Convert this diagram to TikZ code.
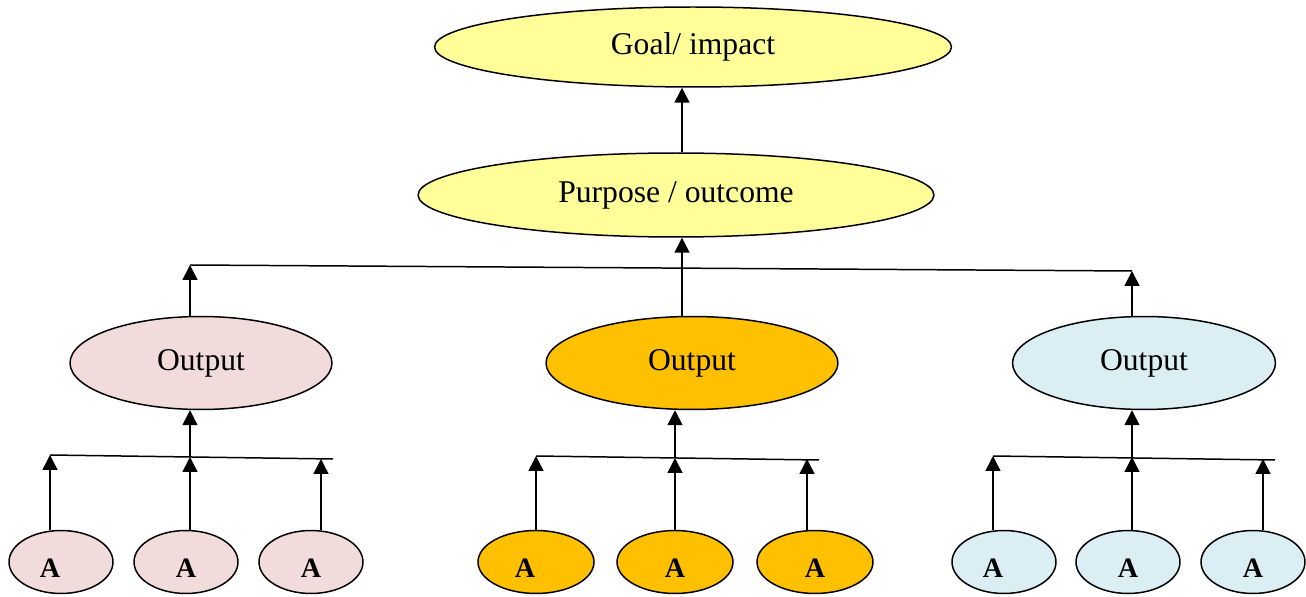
\documentclass[tikz,border=0pt]{standalone}
\usepackage{fontspec}
\setmainfont{Liberation Serif}
\usetikzlibrary{shapes.geometric,arrows.meta}
\definecolor{paleyellow}{HTML}{FFFF99}
\definecolor{palepink}{HTML}{F2DCDB}
\definecolor{amber}{HTML}{FFC000}
\definecolor{paleblue}{HTML}{DAEEF3}
\tikzset{lefttext/.style={execute at begin node={\hspace*{-0.44cm}}}}

\begin{document}
\begin{tikzpicture}[x=0.02cm,y=-0.02cm,line width=0.85pt,
    >={Triangle[length=8.5pt,width=8.5pt]}]

        \useasboundingbox (0,0) rectangle (1306,597);

        \begin{scope}[every node/.style={ellipse,draw,inner sep=0pt,fill=paleyellow,
            font=\fontsize{18}{20}\selectfont}]
          \node[minimum width=10.34cm,minimum height=1.6cm]  (g) at (693,47)  {Goal/ impact};
          \node[minimum width=10.32cm,minimum height=1.68cm] (p) at (676,195) {Purpose / outcome};
        \end{scope}

        \begin{scope}[every node/.style={ellipse,draw,inner sep=0pt,minimum height=1.86cm,
            font=\fontsize{18}{20}\selectfont}]
          \node[fill=palepink,minimum width=5.24cm] (o1) at (201,363)  {Output};
          \node[fill=amber,minimum width=5.84cm]    (o2) at (692,363)  {Output};
          \node[fill=paleblue,minimum width=5.26cm] (o3) at (1144,363) {Output};
        \end{scope}

        \begin{scope}[every node/.style={ellipse,draw,inner sep=0pt,minimum height=1.26cm,
            minimum width=2.08cm,text height=0.62cm,text depth=0pt,
            font=\fontsize{16}{18}\selectfont\bfseries}]
          \node[fill=palepink,lefttext] (1) at (61,562) {A};
          \node[fill=palepink] (2) at (186,562)   {A};
          \node[fill=palepink] (3) at (311,562)   {A};
          \node[fill=amber,minimum width=2.32cm,lefttext] (4) at (536,562) {A};
          \node[fill=amber,minimum width=2.32cm] (5) at (675,562) {A};
          \node[fill=amber,minimum width=2.32cm] (6) at (815,562) {A};
          \node[fill=paleblue,lefttext] (7) at (1004,562) {A};
          \node[fill=paleblue] (8) at (1128,562)  {A};
          \node[fill=paleblue] (9) at (1253,562)  {A};
        \end{scope}

        % bus lines
        \coordinate (t1) at (190,265);
        \coordinate (t2) at (682,268);
        \coordinate (t3) at (1132,271);
        \coordinate (l1) at (50,455);
        \coordinate (l2) at (190,457);
        \coordinate (l3) at (321,459);
        \coordinate (le) at (333,459);
        \coordinate (m1) at (536,456);
        \coordinate (m2) at (675,458);
        \coordinate (m3) at (807,459);
        \coordinate (me) at (819,460);
        \coordinate (r1) at (993,456);
        \coordinate (r2) at (1132,457);
        \coordinate (r3) at (1263,459);
        \coordinate (re) at (1275,460);

        \draw (t1) -- (t3);
        \draw (l1) -- (le);
        \draw (m1) -- (me);
        \draw (r1) -- (re);

        \begin{scope}[every edge/.style={draw,->}]
          \path (p.north -| t2) edge (g.south -| t2);
          \path (o2.north -| t2) edge (p.south -| t2);
          \path (o1.north -| t1) edge (t1);
          \path (o3.north -| t3) edge (t3);
          \path (l2) edge (o1.south -| l2);
          \path (m2) edge (o2.south -| m2);
          \path (r2) edge (o3.south -| r2);
          \path (1.north -| l1) edge (l1);
          \path (2.north -| l2) edge (l2);
          \path (3.north -| l3) edge (l3);
          \path (4.north -| m1) edge (m1);
          \path (5.north -| m2) edge (m2);
          \path (6.north -| m3) edge (m3);
          \path (7.north -| r1) edge (r1);
          \path (8.north -| r2) edge (r2);
          \path (9.north -| r3) edge (r3);
        \end{scope}

      \end{tikzpicture}
\end{document}
